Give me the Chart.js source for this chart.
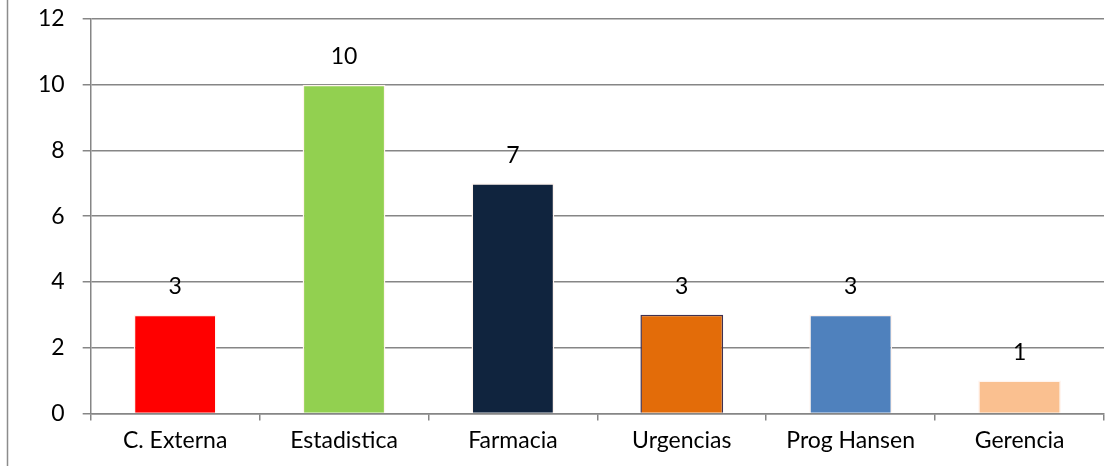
<!DOCTYPE html>
<html>
<head>
<meta charset="utf-8">
<script src="https://cdn.jsdelivr.net/npm/chart.js@4/dist/chart.umd.min.js"></script>
<style>
  html, body { margin: 0; padding: 0; background: #fff; }
  #wrap { width: 1108px; height: 466px; position: relative; }
</style>
</head>
<body>
<div id="wrap"><canvas id="bar-chart"></canvas></div>
<script>
var categories = ['C. Externa', 'Estadistica', 'Farmacia', 'Urgencias', 'Prog Hansen', 'Gerencia'];
var values = [3, 10, 7, 3, 3, 1];
var barColors = ['#FF0000', '#92D050', '#10243E', '#E36C09', '#4F81BD', '#FAC090'];
var barBorders = ['#FFF4EE', '#FFF4EE', '#FFF4EE', '#3F3151', '#FFF4EE', '#FFF4EE'];
var yTicks = [0, 2, 4, 6, 8, 10, 12];

var fontFamily = "Lato, 'Noto Sans', sans-serif";
var fontSize = 23;

// value labels above the bars + left frame line
var extras = {
    id: 'extras',
    afterDraw: function (chart) {
        var c = chart.ctx;
        c.save();
        c.strokeStyle = '#8c8c8c';
        c.lineWidth = 1.5;
        c.beginPath();
        c.moveTo(7.5, 0);
        c.lineTo(7.5, chart.height);
        c.stroke();

        c.fillStyle = '#000';
        c.font = fontSize + 'px ' + fontFamily;
        c.textAlign = 'center';
        c.textBaseline = 'middle';
        chart.getDatasetMeta(0).data.forEach(function (bar, i) {
            c.fillText(String(values[i]), bar.x, bar.y - 28);
        });
        c.restore();
    }
};

var ctx = document.getElementById('bar-chart').getContext('2d');
var myChart = new Chart(ctx, {
    type: 'bar',
    data: {
        labels: categories,
        datasets: [{
            data: values,
            backgroundColor: barColors,
            borderColor: barBorders,
            borderWidth: 1.5,
            categoryPercentage: 0.49,
            barPercentage: 1
        }]
    },
    options: {
        responsive: true,
        maintainAspectRatio: false,
        animation: false,
        layout: { padding: { left: 20, right: 4, top: 19, bottom: 6 } },
        plugins: {
            legend: { display: false },
            tooltip: { enabled: false }
        },
        scales: {
            x: {
                offset: true,
                grid: {
                    offset: true,
                    drawOnChartArea: false,
                    drawTicks: true,
                    tickLength: 7,
                    color: '#868686',
                    lineWidth: 1.5
                },
                border: { color: '#868686', width: 1.5 },
                ticks: {
                    color: '#000',
                    font: { family: fontFamily, size: fontSize },
                    padding: 6,
                    maxRotation: 0
                }
            },
            y: {
                min: 0,
                max: 12,
                afterBuildTicks: function (axis) {
                    axis.ticks = yTicks.map(function (v) { return { value: v }; });
                },
                afterFit: function (axis) {
                    axis.paddingTop = 0;
                },
                grid: {
                    color: '#868686',
                    lineWidth: 1.5,
                    tickLength: 8
                },
                border: { color: '#868686', width: 1.5 },
                ticks: {
                    color: '#000',
                    font: { family: fontFamily, size: fontSize },
                    padding: 18
                }
            }
        }
    },
    plugins: [extras]
});
</script>
</body>
</html>
